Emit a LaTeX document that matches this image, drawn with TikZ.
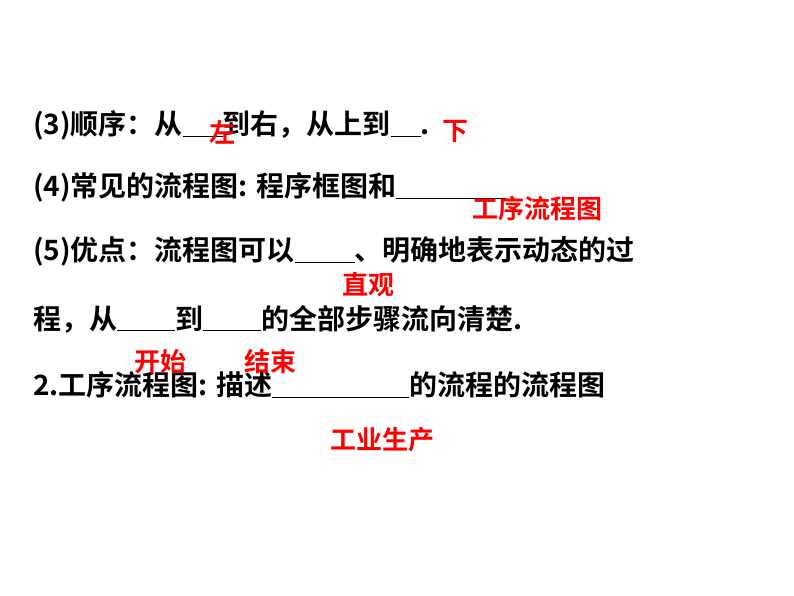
\documentclass[tikz,border=0pt]{standalone}
\usepackage{fontspec}
\setmainfont{Noto Sans CJK SC}[BoldFont={Noto Sans CJK SC Bold}]
\usetikzlibrary{positioning}
\newcommand{\blank}[1]{\rule[-2pt]{#1pt}{0.6pt}}
\tikzset{line/.style={anchor=west,font=\fontsize{28}{32}\selectfont\bfseries,inner sep=0pt},
  answer/.style={font=\fontsize{26}{30}\selectfont\bfseries,text=red,inner sep=0pt}}
\begin{document}
\begin{tikzpicture}[x=1pt,y=-1pt]
  \useasboundingbox (0,0) rectangle (794,596);
  \node[line] (l1) at (33,125) {(3)顺序：从\blank{40}到右，从上到\blank{30}.};
  \node[line] (l2) at (33,187) {(4)常见的流程图: 程序框图和\blank{110}};
  \node[line] (l3) at (33,251) {(5)优点：流程图可以\blank{60}、明确地表示动态的过};
  \node[line] (l4) at (33,319) {程，从\blank{58}到\blank{58}的全部步骤流向清楚.};
  \node[line] (l5) at (33,385) {2.工序流程图: 描述\blank{137}的流程的流程图};

  \node[answer] (a1) at (222,132) {左};
  \node[answer] (a2) at (455,132) {下};
  \node[answer] (a3) at (537,209) {工序流程图};
  \node[answer] (a4) at (368,285) {直观};
  \node[answer] (a5) at (160,362) {开始};
  \node[answer] (a6) at (270,362) {结束};
  \node[answer] (a7) at (382,440) {工业生产};
\end{tikzpicture}
\end{document}
